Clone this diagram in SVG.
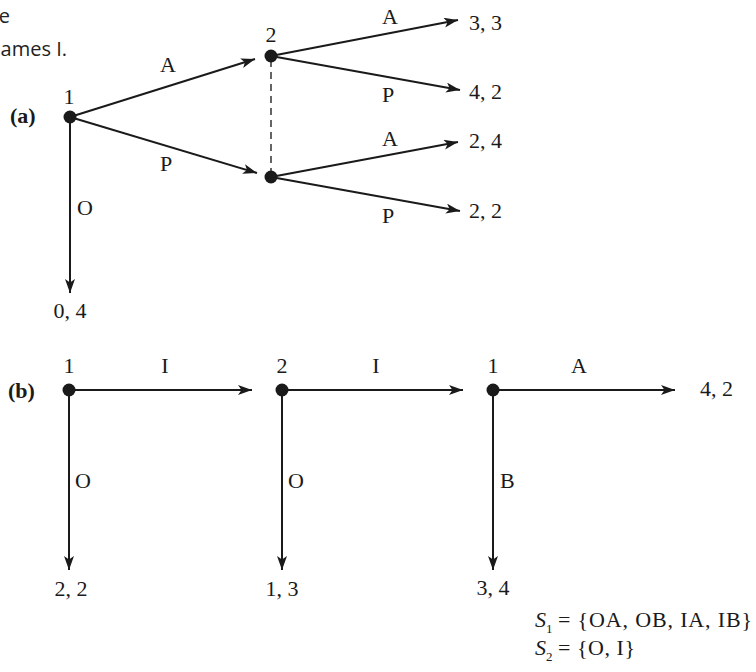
<svg xmlns="http://www.w3.org/2000/svg" width="756" height="672" viewBox="0 0 756 672">
<defs>
<marker id="arr" markerUnits="userSpaceOnUse" markerWidth="16" markerHeight="12" refX="14" refY="5" orient="auto">
<path d="M0,0 L14,5 L0,10 L3.5,5 Z" fill="#1a1a1a"/>
</marker>
<style>
.t{font-family:"Liberation Serif","Times New Roman",serif;font-size:22px;fill:#1a1a1a}
.b{font-weight:bold}
.i{font-style:italic}
.sub{font-size:13px}
.cap{font-family:"Open Sans","Noto Sans",sans-serif;font-size:20px;fill:#222}
.e{stroke:#1a1a1a;stroke-width:2;fill:none;marker-end:url(#arr)}
.n{fill:#1a1a1a}
.d{stroke:#333;stroke-width:1.5;stroke-dasharray:7,5;fill:none}
</style>
</defs>
<rect width="756" height="672" fill="#fff"/>
<g id="caption">
<text class="cap" x="10" y="23" text-anchor="end">e</text>
<text class="cap" x="67" y="56" text-anchor="end">ames I.</text>
</g>
<g id="connectors">
<line class="e" x1="70" y1="117" x2="255" y2="59"/>
<line class="e" x1="70" y1="117" x2="257" y2="173"/>
<line class="e" x1="70" y1="117" x2="70" y2="293"/>
<line class="e" x1="271" y1="56" x2="458" y2="20"/>
<line class="e" x1="271" y1="56" x2="460" y2="90"/>
<line class="e" x1="271" y1="177" x2="458" y2="142"/>
<line class="e" x1="271" y1="177" x2="460" y2="211"/>
<line class="d" x1="271" y1="60" x2="271" y2="173"/>
<line class="e" x1="69" y1="390" x2="252" y2="390"/>
<line class="e" x1="282" y1="390" x2="463" y2="390"/>
<line class="e" x1="493" y1="390" x2="675" y2="390"/>
<line class="e" x1="69" y1="390" x2="69" y2="570"/>
<line class="e" x1="282" y1="390" x2="282" y2="570"/>
<line class="e" x1="493" y1="390" x2="493" y2="570"/>
<g class="t">
<text x="168" y="72" text-anchor="middle">A</text>
<text x="166" y="171" text-anchor="middle">P</text>
<text x="77" y="215">O</text>
<text x="390" y="24" text-anchor="middle">A</text>
<text x="388" y="102" text-anchor="middle">P</text>
<text x="390" y="146" text-anchor="middle">A</text>
<text x="388" y="223" text-anchor="middle">P</text>
<text x="165" y="373" text-anchor="middle">I</text>
<text x="376" y="373" text-anchor="middle">I</text>
<text x="579" y="373" text-anchor="middle">A</text>
<text x="75" y="488">O</text>
<text x="288" y="488">O</text>
<text x="500" y="488">B</text>
</g>
</g>
<g id="label-a"><text class="t b" x="10" y="123">(a)</text></g>
<g id="label-b"><text class="t b" x="8" y="398">(b)</text></g>
<g id="a-node1"><circle class="n" cx="70" cy="117" r="6.5"/><text class="t" x="69" y="104" text-anchor="middle">1</text></g>
<g id="a-node2top"><circle class="n" cx="271" cy="56" r="6.5"/><text class="t" x="271" y="42" text-anchor="middle">2</text></g>
<g id="a-node2bot"><circle class="n" cx="271" cy="177" r="6.5"/></g>
<g id="a-pay33"><text class="t" x="469" y="30">3, 3</text></g>
<g id="a-pay42"><text class="t" x="469" y="99">4, 2</text></g>
<g id="a-pay24"><text class="t" x="469" y="148">2, 4</text></g>
<g id="a-pay22"><text class="t" x="469" y="218">2, 2</text></g>
<g id="a-pay04"><text class="t" x="70" y="318" text-anchor="middle">0, 4</text></g>
<g id="b-node1"><circle class="n" cx="69" cy="390" r="6.5"/><text class="t" x="69" y="373" text-anchor="middle">1</text></g>
<g id="b-node2"><circle class="n" cx="282" cy="390" r="6.5"/><text class="t" x="282" y="373" text-anchor="middle">2</text></g>
<g id="b-node3"><circle class="n" cx="493" cy="390" r="6.5"/><text class="t" x="493" y="373" text-anchor="middle">1</text></g>
<g id="b-pay42"><text class="t" x="700" y="396">4, 2</text></g>
<g id="b-pay22"><text class="t" x="71" y="596" text-anchor="middle">2, 2</text></g>
<g id="b-pay13"><text class="t" x="282" y="596" text-anchor="middle">1, 3</text></g>
<g id="b-pay34"><text class="t" x="493" y="595" text-anchor="middle">3, 4</text></g>
<g id="strategies">
<text class="t" x="535" y="627"><tspan class="i">S</tspan><tspan class="sub" dy="6">1</tspan><tspan x="558" dy="-6" textLength="194" lengthAdjust="spacing">= {OA, OB, IA, IB}</tspan></text>
<text class="t" x="535" y="655"><tspan class="i">S</tspan><tspan class="sub" dy="6">2</tspan><tspan x="558" dy="-6" textLength="77" lengthAdjust="spacing">= {O, I}</tspan></text>
</g>
</svg>
